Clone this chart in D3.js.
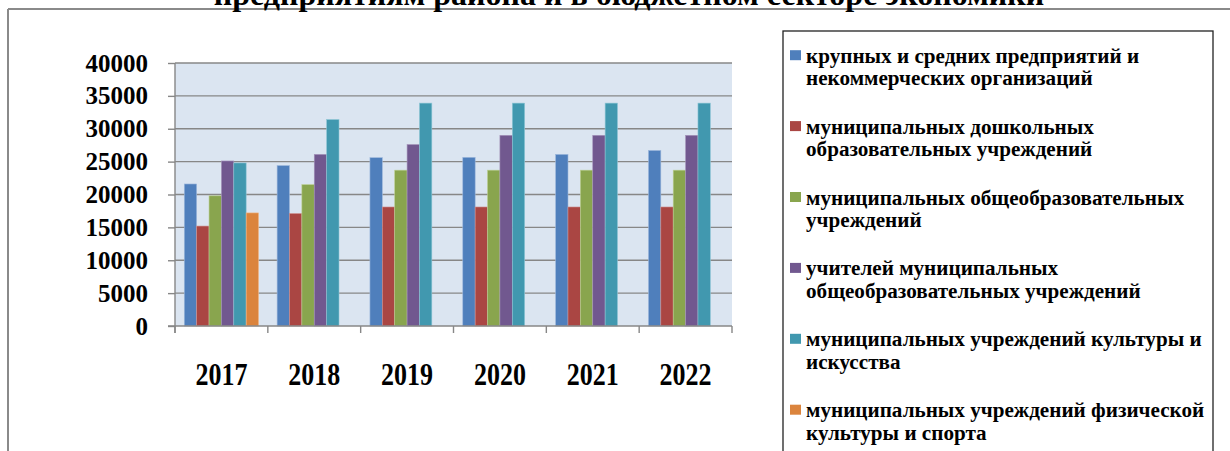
<!DOCTYPE html>
<html>
<head>
<meta charset="utf-8">
<script src="https://cdn.jsdelivr.net/npm/d3@7"></script>
<style>
  body { margin: 0; background: #fff; }
  svg { display: block; }
  text { font-family: "Liberation Serif", "Times New Roman", serif; font-weight: bold; fill: #000; }
</style>
</head>
<body>
<div id="chart"></div>
<script>
// Data
var years = ["2017", "2018", "2019", "2020", "2021", "2022"];
var seriesNames = [
    ["крупных и средних предприятий и", "некоммерческих организаций"],
    ["муниципальных дошкольных", "образовательных учреждений"],
    ["муниципальных общеобразовательных", "учреждений"],
    ["учителей муниципальных", "общеобразовательных учреждений"],
    ["муниципальных учреждений культуры и", "искусства"],
    ["муниципальных учреждений физической", "культуры и спорта"]
];
var largeEnterprises = [21600, 24400, 25600, 25650, 26100, 26700];
var preschool        = [15200, 17100, 18100, 18100, 18100, 18100];
var schools          = [19800, 21500, 23700, 23700, 23700, 23700];
var teachers         = [25100, 26100, 27600, 29000, 29000, 29000];
var culture          = [24800, 31400, 33900, 33900, 33900, 33900];
var sport            = [17200, null, null, null, null, null];
var yTicks = [0, 5000, 10000, 15000, 20000, 25000, 30000, 35000, 40000];
var titleText = "предприятиям района и в бюджетном секторе экономики";

var seriesValues = [largeEnterprises, preschool, schools, teachers, culture, sport];
var colors = ["#4F7FBC", "#AA4643", "#89A54E", "#71588F", "#4198AF", "#DB843D"];
var edgeColors = ["#9DB8DC", "#CF8F8D", "#BCCF92", "#A593BA", "#8FC6D6", "#F0B98C"];

var W = 1230, H = 451;
var plot = { left: 175, right: 732, top: 63, bottom: 326 };

var svg = d3.select("#chart").append("svg")
    .attr("width", W)
    .attr("height", H);

// Outer chart frame (only top and left edge visible)
svg.append("line").attr("x1", 8).attr("x2", W).attr("y1", 9).attr("y2", 9)
    .style("stroke", "#8a8a8a").style("stroke-width", 2);
svg.append("line").attr("x1", 8).attr("x2", 8).attr("y1", 9).attr("y2", H)
    .style("stroke", "#8a8a8a").style("stroke-width", 2);

// Title (only its last line is in view, cut by the top edge as in the source)
svg.append("text")
    .attr("x", 629)
    .attr("y", 5)
    .attr("text-anchor", "middle")
    .style("font-size", "32px")
    .text(titleText);

// Scales
var x = d3.scaleBand()
    .domain(years)
    .range([plot.left, plot.right]);

var xInner = d3.scaleBand()
    .domain(d3.range(seriesValues.length))
    .range([0, x.bandwidth()])
    .paddingOuter(0.75);

var y = d3.scaleLinear()
    .domain([0, 40000])
    .range([plot.bottom, plot.top]);

// Plot background
svg.append("rect")
    .attr("x", plot.left)
    .attr("y", plot.top)
    .attr("width", plot.right - plot.left)
    .attr("height", plot.bottom - plot.top)
    .style("fill", "#DBE5F1");

// Gridlines
svg.selectAll(".grid")
    .data(yTicks.slice(1))
    .enter().append("line")
    .attr("class", "grid")
    .attr("x1", plot.left)
    .attr("x2", plot.right)
    .attr("y1", function(d) { return y(d); })
    .attr("y2", function(d) { return y(d); })
    .style("stroke", "#878787")
    .style("stroke-width", 1.4);

// Bars
var groups = svg.selectAll(".series")
    .data(seriesValues)
    .enter().append("g")
    .attr("class", "series");

groups.each(function(vals, si) {
    d3.select(this).selectAll("rect")
        .data(vals.map(function(v, i) { return { year: years[i], value: v }; })
            .filter(function(d) { return d.value != null; }))
        .enter().append("rect")
        .attr("x", function(d) { return x(d.year) + xInner(si); })
        .attr("width", xInner.bandwidth())
        .attr("y", function(d) { return y(d.value); })
        .attr("height", function(d) { return y(0) - y(d.value); })
        .style("fill", colors[si])
        .style("stroke", edgeColors[si])
        .style("stroke-width", 0.6);
});

// Y axis
var yAxis = d3.axisLeft(y)
    .tickValues(yTicks)
    .tickFormat(d3.format("d"))
    .tickSize(7)
    .tickPadding(20)
    .tickSizeOuter(0);

var gy = svg.append("g")
    .attr("transform", "translate(" + plot.left + ",0)")
    .call(yAxis);
gy.select(".domain").remove();
gy.selectAll(".tick line").style("stroke", "#878787").style("stroke-width", 1.4);
gy.selectAll(".tick text")
    .style("font-size", "25px")
    .style("font-family", "'Liberation Serif', serif")
    .style("font-weight", "bold")
    .attr("fill", "#000");

svg.append("line")
    .attr("x1", plot.left).attr("x2", plot.left)
    .attr("y1", plot.top).attr("y2", plot.bottom + 7)
    .style("stroke", "#878787").style("stroke-width", 1.4);

// X axis line and ticks at category boundaries
svg.append("line")
    .attr("x1", plot.left - 7).attr("x2", plot.right)
    .attr("y1", plot.bottom).attr("y2", plot.bottom)
    .style("stroke", "#878787").style("stroke-width", 1.4);

var boundaries = years.map(function(d) { return x(d); }).concat([plot.right]);
svg.selectAll(".xtick")
    .data(boundaries)
    .enter().append("line")
    .attr("class", "xtick")
    .attr("x1", function(d) { return d; })
    .attr("x2", function(d) { return d; })
    .attr("y1", plot.bottom)
    .attr("y2", plot.bottom + 7)
    .style("stroke", "#878787").style("stroke-width", 1.4);

svg.selectAll(".xlabel")
    .data(years)
    .enter().append("text")
    .attr("class", "xlabel")
    .attr("transform", function(d) {
        return "translate(" + (x(d) + x.bandwidth() / 2) + ",385) scale(1,1.2)";
    })
    .attr("text-anchor", "middle")
    .style("font-size", "26px")
    .text(function(d) { return d; });

// Legend
svg.append("rect")
    .attr("x", 783)
    .attr("y", 31)
    .attr("width", 1213 - 783)
    .attr("height", 440)
    .style("fill", "#fff")
    .style("stroke", "#222")
    .style("stroke-width", 1.3);

var legend = svg.selectAll(".legend")
    .data(seriesNames)
    .enter().append("g")
    .attr("class", "legend")
    .attr("transform", function(d, i) { return "translate(790," + (62.7 + i * 70.9) + ")"; });

legend.append("rect")
    .attr("x", 0)
    .attr("y", -12.5)
    .attr("width", 11)
    .attr("height", 10)
    .style("fill", function(d, i) { return colors[i]; });

// each entry is one text with a tspan per line
var legendText = legend.append("text")
    .attr("transform", "translate(16,0) scale(1.047,1)")
    .style("font-size", "20.2px");

legendText.selectAll("tspan")
    .data(function(d) { return d; })
    .enter().append("tspan")
    .attr("x", 0)
    .attr("y", function(d, k) { return k * 22.5; })
    .text(function(d) { return d; });
</script>
</body>
</html>
